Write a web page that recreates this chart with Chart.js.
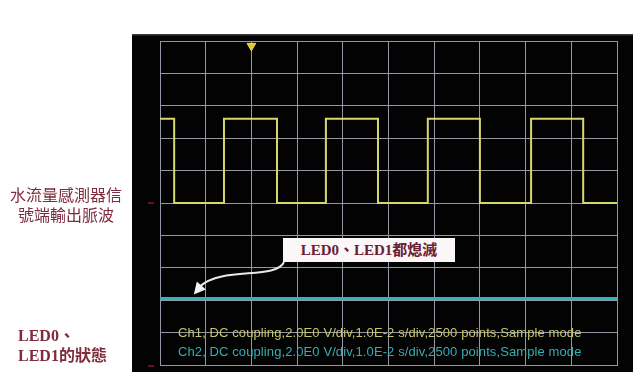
<!DOCTYPE html>
<html>
<head>
<meta charset="utf-8">
<script src="https://cdn.jsdelivr.net/npm/chart.js@4/dist/chart.umd.min.js"></script>
<style>
  body { margin: 0; background: #fff; }
  #wrap { position: relative; width: 633px; height: 372px; overflow: hidden; }
  #scope { position: absolute; left: 0; top: 0; }
  .lbl { position: absolute; color: #7e2c3c; font-family: "Noto Sans CJK TC", sans-serif; font-size: 16px; line-height: 20px; white-space: nowrap; }
  .led { font-family: "Liberation Serif", "Noto Sans CJK TC", serif; font-weight: bold; }
  .box { position: absolute; left: 283px; top: 238px; width: 172px; height: 24px; background: #fbf7f7; color: #6a2033; font-size: 15px; line-height: 24px; text-align: center; font-family: "Liberation Serif", "Noto Sans CJK TC", serif; font-weight: bold; white-space: nowrap; }
  .info { position: absolute; left: 178px; font-family: "Liberation Sans", sans-serif; font-size: 13px; line-height: 14px; letter-spacing: 0.1px; white-space: nowrap; }
</style>
</head>
<body>
<div id="wrap">
  <canvas id="scope" width="633" height="372"></canvas>
  <div class="lbl" style="left:10px;top:184px;">水流量感測器信</div>
  <div class="lbl" style="left:18px;top:204px;">號端輸出脈波</div>
  <div class="lbl led" style="left:18px;top:326px;">LED0、</div>
  <div class="lbl led" style="left:18px;top:346px;">LED1的狀態</div>
  <div class="box">LED0、LED1都熄滅</div>
  <div class="info" style="top:326px;color:#c6c66e;">Ch1, DC coupling,2.0E0 V/div,1.0E-2 s/div,2500 points,Sample mode</div>
  <div class="info" style="top:345px;color:#36aeb0;">Ch2, DC coupling,2.0E0 V/div,1.0E-2 s/div,2500 points,Sample mode</div>
</div>
<script>
// time in ms (1.0E-2 s/div), level in volts (2 V/div)
const ch1Time = [0, 3.1, 14.0, 25.6, 36.3, 47.7, 58.6, 70.0, 81.2, 92.6, 100];
const ch1Volts = [5.2, 0, 5.2, 0, 5.2, 0, 5.2, 0, 5.2, 0, 0];
const ch2Time = [0, 100];
const ch2Volts = [-5.9, -5.9];
const triggerTime = 20;
const triggerMark = 9.7;

const toPoints = (xs, ys) => xs.map((x, i) => ({ x: x, y: ys[i] }));

const scopeBg = {
  id: "scopeBg",
  beforeDraw(chart) {
    const { ctx, chartArea } = chart;
    ctx.save();
    ctx.fillStyle = "#030303";
    ctx.fillRect(chartArea.left - 28, chartArea.top - 7, chart.width, chart.height);
    ctx.fillStyle = "#3a3a3e";
    ctx.fillRect(chartArea.left - 28, chartArea.top - 7, chart.width, 1.5);
    ctx.restore();
  },
};

const arrow = {
  id: "arrow",
  afterDatasetsDraw(chart) {
    const { ctx, scales } = chart;
    const tx = scales.x.getPixelForValue(7.4);
    const ty = scales.y.getPixelForValue(ch2Volts[0]) - 4;
    ctx.save();
    ctx.strokeStyle = "#e8e8ea";
    ctx.lineWidth = 2;
    ctx.beginPath();
    ctx.moveTo(284, 262);
    ctx.bezierCurveTo(276, 280, 222, 266, tx + 6, ty - 8);
    ctx.stroke();
    ctx.fillStyle = "#f4f4f6";
    ctx.beginPath();
    ctx.moveTo(tx, ty);
    ctx.lineTo(tx + 3, ty - 13);
    ctx.lineTo(tx + 12, ty - 5);
    ctx.closePath();
    ctx.fill();
    // channel markers on the left edge
    ctx.fillStyle = "rgba(170,30,40,0.6)";
    ctx.fillRect(scales.x.left - 12, scales.y.getPixelForValue(0) - 1, 6, 2);
    ctx.fillRect(scales.x.left - 12, scales.y.bottom, 6, 2);
    ctx.restore();
  },
};

new Chart(document.getElementById("scope"), {
  type: "line",
  data: {
    datasets: [
      {
        label: "Ch1",
        data: toPoints(ch1Time, ch1Volts),
        stepped: true,
        borderColor: "#d6d86a",
        borderWidth: 2,
        pointRadius: 0,
      },
      {
        label: "Ch2",
        data: toPoints(ch2Time, ch2Volts),
        borderColor: "#2fb6b8",
        borderWidth: 3,
        pointRadius: 0,
      },
      {
        label: "Trigger",
        data: [{ x: triggerTime, y: triggerMark }],
        showLine: false,
        pointStyle: "triangle",
        rotation: 180,
        pointRadius: 5,
        backgroundColor: "#e6c828",
        borderColor: "#f0dc50",
        clip: false,
      },
    ],
  },
  options: {
    responsive: false,
    animation: false,
    layout: { padding: { left: 160, right: 16, top: 41, bottom: 7 } },
    plugins: {
      legend: { display: false },
      tooltip: { enabled: false },
    },
    scales: {
      x: {
        type: "linear",
        min: 0,
        max: 100,
        ticks: { display: false, stepSize: 10 },
        grid: { color: "#9496a4", drawTicks: false },
        border: { color: "#9496a4" },
      },
      y: {
        min: -10,
        max: 10,
        ticks: { display: false, stepSize: 2 },
        grid: { color: "#9496a4", drawTicks: false },
        border: { color: "#9496a4" },
      },
    },
  },
  plugins: [scopeBg, arrow],
});
</script>
</body>
</html>
